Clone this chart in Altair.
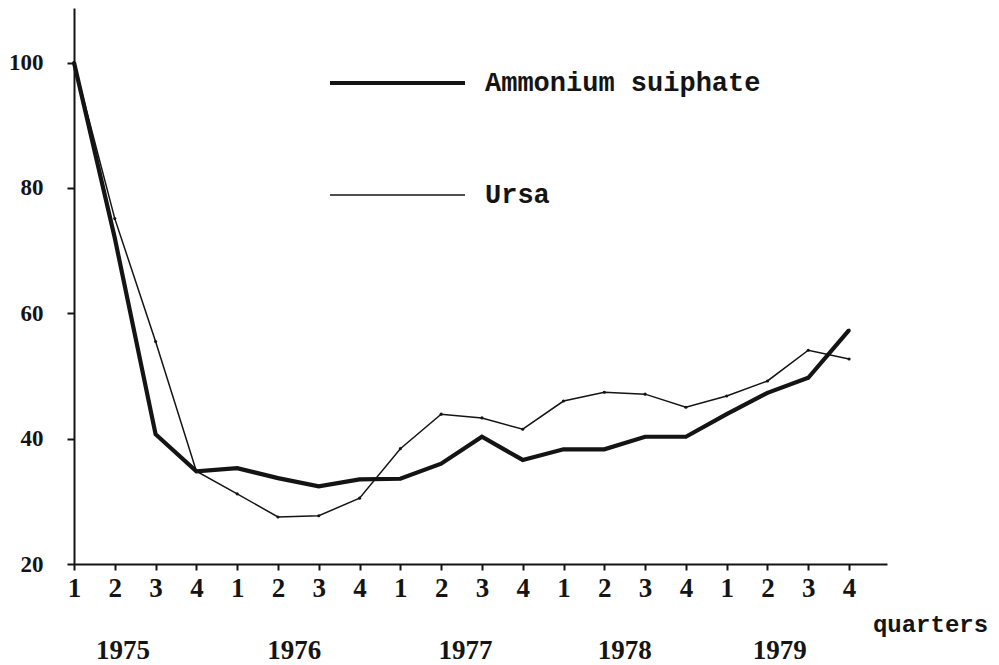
import altair as alt
import pandas as pd

series_names = ["Ammonium suiphate", "Ursa"]
quarters = ["1", "2", "3", "4"] * 5
years = ["1975", "1976", "1977", "1978", "1979"]
year_pos = [1.2, 5.4, 9.6, 13.5, 17.3]
ammonium = [100, 72.0, 40.7, 34.8, 35.3, 33.7, 32.4, 33.5, 33.6, 36.0,
            40.3, 36.6, 38.3, 38.3, 40.3, 40.3, 43.9, 47.3, 49.7, 57.3]
ursa = [100, 75.1, 55.5, 34.8, 31.2, 27.5, 27.7, 30.5, 38.4, 43.9,
        43.3, 41.5, 46.0, 47.4, 47.1, 45.0, 46.8, 49.2, 54.1, 52.7]
y_ticks = [20, 40, 60, 80, 100]

INK = "#141414"

rows = []
for i in range(len(quarters)):
    rows.append({"idx": i, "value": ammonium[i], "series": series_names[0]})
    rows.append({"idx": i, "value": ursa[i], "series": series_names[1]})
df = pd.DataFrame(rows)
df_years = pd.DataFrame({"pos": year_pos, "year": years})

label_expr = "[" + ",".join("'%s'" % q for q in quarters) + "][datum.value]"

xscale = alt.Scale(domain=[0, 19.93], nice=False, zero=False)
yscale = alt.Scale(domain=[20, 108.7], nice=False, zero=False)
wscale = alt.Scale(domain=series_names, range=[4.2, 1.5])

x_axis = alt.Axis(
    values=list(range(len(quarters))), labelExpr=label_expr, grid=False,
    title="quarters", titleX=856, titleY=60, titleAlign="center",
    titleBaseline="middle", titleFont="Liberation Mono", titleFontSize=24,
    titleFontWeight="bold", titleColor=INK,
    labelFont="Liberation Serif", labelFontSize=27, labelFontWeight="bold",
    labelColor=INK, labelPadding=5, tickSize=6, tickWidth=2, tickColor=INK,
    domainColor=INK, domainWidth=2, labelFlush=False, labelOverlap=False,
)
y_axis = alt.Axis(
    values=y_ticks, grid=False, title=None,
    labelFont="Liberation Serif", labelFontSize=23, labelFontWeight="bold",
    labelColor=INK, labelPadding=24, tickSize=7, tickWidth=2, tickColor=INK,
    domainColor=INK, domainWidth=2, labelFlush=False, labelOverlap=False,
)

lines = alt.Chart(df).mark_line(color=INK).encode(
    x=alt.X("idx:Q", scale=xscale, axis=x_axis),
    y=alt.Y("value:Q", scale=yscale, axis=y_axis),
    strokeWidth=alt.StrokeWidth("series:N", scale=wscale, legend=None),
)

points = alt.Chart(df).mark_circle(color=INK, size=10, opacity=1).encode(
    x=alt.X("idx:Q", scale=xscale),
    y=alt.Y("value:Q", scale=yscale),
)

year_text = alt.Chart(df_years).mark_text(
    font="Liberation Serif", fontSize=27, fontWeight="bold", color=INK,
    baseline="middle", align="center",
).encode(
    x=alt.X("pos:Q", scale=xscale),
    y=alt.value(643),
    text="year:N",
)

# manual legend (one layer per series row)
legend_layers = []
for name, ypix in zip(series_names, [75, 187]):
    ldf = pd.DataFrame({"series": [name]})
    rule = alt.Chart(ldf).mark_rule(color=INK).encode(
        x=alt.value(256), x2=alt.value(391), y=alt.value(ypix),
        strokeWidth=alt.StrokeWidth("series:N", scale=wscale, legend=None),
    )
    txt = alt.Chart(ldf).mark_text(
        font="Liberation Mono", fontSize=27, fontWeight="bold", color=INK,
        align="left", baseline="middle",
    ).encode(x=alt.value(411), y=alt.value(ypix), text="series:N")
    legend_layers += [rule, txt]

chart = alt.layer(lines, points, year_text, *legend_layers).properties(
    width=813, height=556,
    autosize=alt.AutoSizeParams(type="none"),
    padding={"left": 66, "top": 0, "right": 104, "bottom": 104},
    background="white",
).configure_view(stroke=None)

chart.save("out.html", embed_options={"renderer": "svg", "actions": False})
